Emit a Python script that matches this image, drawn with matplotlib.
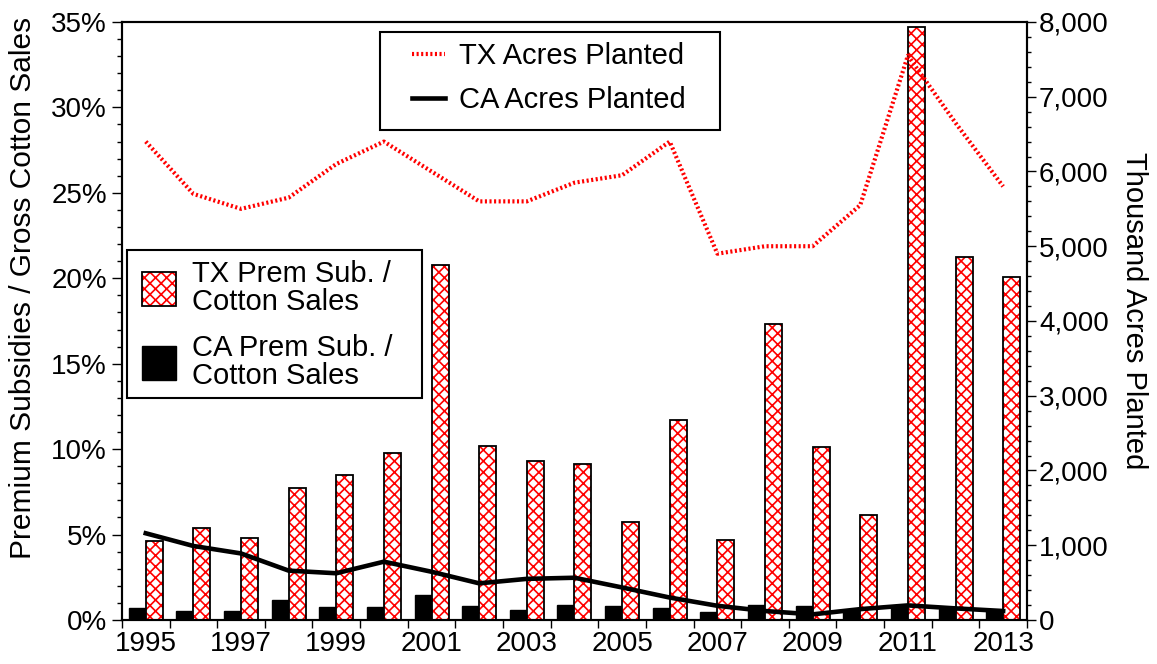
import matplotlib
matplotlib.use('Agg')
import matplotlib.pyplot as plt
import numpy as np
from matplotlib.patches import Patch, Rectangle
from matplotlib.lines import Line2D
from matplotlib.legend_handler import HandlerTuple
from matplotlib.ticker import MultipleLocator, FuncFormatter

plt.rcParams['font.family'] = ['Liberation Sans', 'DejaVu Sans']
plt.rcParams['hatch.linewidth'] = 1.2

# Data
years = list(range(1995, 2014))
tx_sub = [4.62, 5.38, 4.80, 7.70, 8.50, 9.75, 20.8, 10.2, 9.3, 9.1,
          5.73, 11.7, 4.66, 17.3, 10.15, 6.12, 34.68, 21.24, 20.09]
ca_sub = [0.70, 0.53, 0.53, 1.17, 0.78, 0.78, 1.46, 0.82, 0.60, 0.88,
          0.82, 0.72, 0.49, 0.86, 0.80, 0.53, 0.76, 0.62, 0.57]
tx_acres = [6400, 5700, 5500, 5650, 6100, 6400, 6000, 5600, 5600, 5850,
            5950, 6400, 4900, 5000, 5000, 5550, 7550, 6650, 5800]
ca_acres = [1160, 990, 890, 660, 625, 780, 645, 490, 550, 565,
            435, 300, 190, 120, 75, 145, 195, 155, 120]

x = np.arange(len(years))
w = 0.357

fig = plt.figure(figsize=(11.57, 6.64), dpi=100)
ax = fig.add_axes([0.1054, 0.0663, 0.7822, 0.9006])

# bars
ax.bar(x - w/2, ca_sub, w, color='black', edgecolor='black', linewidth=1)
ax.bar(x + w/2, tx_sub, w, color='white', edgecolor='red', hatch='xxx', linewidth=0)
ax.bar(x + w/2, tx_sub, w, fill=False, edgecolor='black', linewidth=1.3)

ax.set_xlim(-0.5, 18.5)
ax.set_ylim(0, 35)
ax.set_xticks(x[::2])
ax.set_xticklabels([str(y) for y in years[::2]])
ax.set_xticks(np.arange(-0.5, 19, 1), minor=True)
ax.tick_params(axis='x', which='major', length=0, pad=8, labelsize=20)
ax.tick_params(axis='x', which='minor', length=5.5, width=1, direction='out')
ax.yaxis.set_major_locator(MultipleLocator(5))
ax.yaxis.set_minor_locator(MultipleLocator(1))
ax.yaxis.set_major_formatter(FuncFormatter(lambda v, p: '%d%%' % v))
ax.tick_params(axis='y', which='major', length=7.2, width=1, labelsize=20, pad=3.5)
ax.tick_params(axis='y', which='minor', length=3.6, width=1)
ax.set_ylabel('Premium Subsidies / Gross Cotton Sales', fontsize=21.5)
ax.yaxis.set_label_coords(-0.094, 0.555)

# lines on right axis
ax2 = ax.twinx()
ax2.plot(x, tx_acres, color='red', lw=3, dashes=(0.5, 0.6))
ax2.plot(x, ca_acres, color='black', lw=3.3)
ax2.set_ylim(0, 8000)
ax2.yaxis.set_major_locator(MultipleLocator(1000))
ax2.yaxis.set_minor_locator(MultipleLocator(200))
ax2.yaxis.set_major_formatter(FuncFormatter(lambda v, p: '{:,.0f}'.format(v)))
ax2.tick_params(axis='y', which='major', length=6.7, width=1, labelsize=20, pad=2)
ax2.tick_params(axis='y', which='minor', length=3.1, width=1)
ax2.set_ylabel('Thousand Acres Planted', fontsize=21, rotation=270, va='bottom')
ax2.yaxis.set_label_coords(1.103, 0.518)

for a in (ax, ax2):
    for s in a.spines.values():
        s.set_linewidth(1.5)

# legend frames
ax2.add_patch(Rectangle((0.285, 0.819), 0.376, 0.164, transform=ax2.transAxes,
                        facecolor='white', edgecolor='black', lw=1.5, zorder=4, clip_on=False))
ax2.add_patch(Rectangle((0.0055, 0.371), 0.326, 0.2477, transform=ax2.transAxes,
                        facecolor='white', edgecolor='black', lw=1.5, zorder=4, clip_on=False))

h_tx = Line2D([], [], color='red', lw=3, dashes=(0.5, 0.6))
h_ca = Line2D([], [], color='black', lw=3.3)
leg1 = ax2.legend([h_tx, h_ca], ['TX Acres Planted', 'CA Acres Planted'],
                  loc='center', bbox_to_anchor=(0.4718, 0.9065), frameon=False,
                  fontsize=21, handlelength=1.13, handletextpad=0.5,
                  labelspacing=0.55, borderpad=0, borderaxespad=0)
ax2.add_artist(leg1)

p_tx = (Patch(facecolor='white', edgecolor='red', hatch='xxx', lw=0),
        Patch(facecolor='none', edgecolor='black', lw=1.3))
p_ca = Patch(facecolor='black', edgecolor='black', lw=1)
leg2 = ax2.legend([p_tx, p_ca], ['TX Prem Sub. /\nCotton Sales', 'CA Prem Sub. /\nCotton Sales'],
                  handler_map={tuple: HandlerTuple(ndivide=1, pad=0)},
                  loc='center', bbox_to_anchor=(0.1608, 0.4933), frameon=False,
                  fontsize=21, handlelength=1.16, handleheight=1.4, handletextpad=0.55,
                  labelspacing=0.62, borderpad=0, borderaxespad=0)
for t in leg2.get_texts():
    t.set_linespacing(1.0)

fig.savefig('out.png', dpi=100)
